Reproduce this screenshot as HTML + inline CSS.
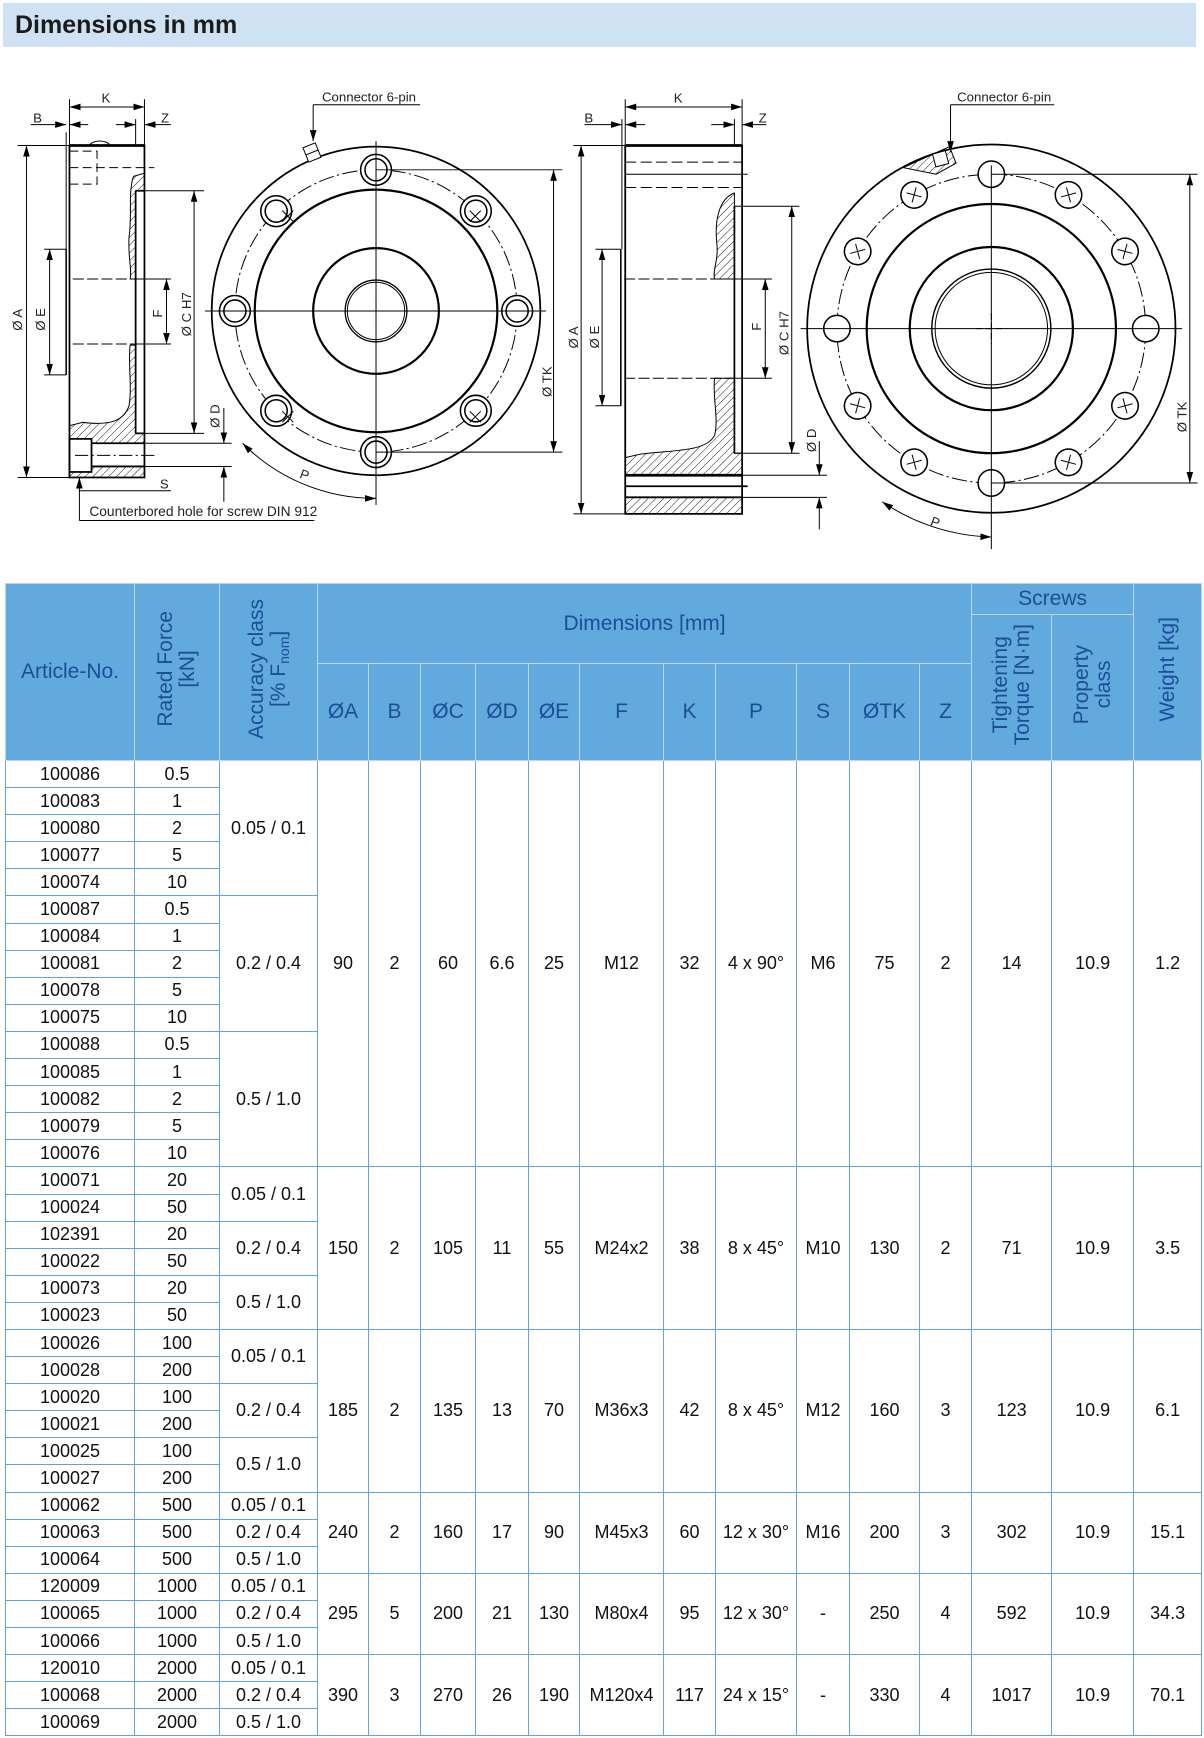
<!DOCTYPE html>
<html><head><meta charset="utf-8"><style>
body{margin:0;background:#fff;width:1204px;height:1738px;position:relative;overflow:hidden;font-family:"Liberation Sans",Arial,sans-serif}
.hdr{position:absolute;left:3px;top:3px;width:1193px;height:44px;background:#cfe2f3}
.hdr span{position:absolute;left:12px;top:8px;font-size:25px;font-weight:bold;color:#1b1b1b}
svg.dr{position:absolute;left:0;top:0}
table{position:absolute;left:5px;top:583px;border-collapse:collapse;table-layout:fixed;width:1196px}
td,th{padding:0;text-align:center;vertical-align:middle;overflow:hidden;white-space:nowrap}
th{background:#62a9dd;color:#1a4f96;font-weight:normal;font-size:21px;border:1px solid #b9d8ef}
td{border:1px solid #62a2d8;font-size:18px;color:#111;height:26.1px}
.v{display:inline-block;writing-mode:vertical-rl;transform:rotate(180deg);line-height:1.05;font-size:21px}
</style></head><body>
<div class="hdr"><span>Dimensions in mm</span></div>
<svg class="dr" width="1204" height="580" viewBox="0 0 1204 580">
<defs>
<pattern id="h" width="5" height="5" patternUnits="userSpaceOnUse" patternTransform="rotate(45)"><line x1="0" y1="0" x2="0" y2="5" stroke="#000" stroke-width="0.8"/></pattern>
<marker id="a" markerWidth="10" markerHeight="6" refX="10" refY="3" orient="auto-start-reverse" markerUnits="userSpaceOnUse"><path d="M0,0L10,3L0,6Z" fill="#000"/></marker>
<g id="h4"><circle cx="0" cy="-140" r="12" fill="#fff" stroke="#000" stroke-width="1.4"/></g>
<g id="x4"><circle cx="0" cy="-140" r="12" fill="#fff" stroke="#000" stroke-width="1.4"/><path d="M-5,-145 l10,10 m0,-10 l-10,10" stroke="#000" stroke-width="0.9"/></g>
<g id="hl"><circle cx="0" cy="-128" r="14" fill="#fff" stroke="#000" stroke-width="1.4"/><circle cx="0" cy="-128" r="10" fill="none" stroke="#000" stroke-width="1.4"/></g>
</defs>
<g transform="scale(1.1027)" fill="none" stroke="#000" stroke-width="0.9" font-family="'Liberation Sans Narrow','Liberation Sans',sans-serif" font-size="12">
<!-- VIEW 1 -->
<path d="M121,160 C116,175 120,195 117,215 C116,235 120,245 118,253 L123,253 L123,173 L131,173 L131,157 Z" fill="url(#h)"/>
<path d="M118,313 C116,330 120,350 117,368 C112,382 100,386 75,383 L63,386 L63,398 L83,398 L83,402 L131,402 L131,393 L123,393 L123,313 Z" fill="url(#h)"/>
<path d="M83,423 L131,423 L131,433 L63,433 L63,428 L83,428 Z" fill="url(#h)"/>
<rect x="63" y="132" width="68" height="301" stroke-width="1.6"/>
<line x1="63" y1="132" x2="131" y2="132" stroke-width="2.5"/>
<path d="M81,132 A10,6 0 0 1 100,132" />
<line x1="123" y1="173" x2="123" y2="393" stroke-width="1.6"/>
<line x1="123" y1="173" x2="131" y2="173" stroke-width="1.6"/>
<line x1="123" y1="393" x2="131" y2="393" stroke-width="1.6"/>
<rect x="63" y="398" width="20" height="30" stroke-width="1.6"/>
<line x1="83" y1="402" x2="131" y2="402" stroke-width="1.6"/><line x1="83" y1="423" x2="131" y2="423" stroke-width="1.6"/>
<line x1="68" y1="413" x2="142" y2="413" stroke-dasharray="12,3,2,3"/>
<path d="M63,137 H88 V152 M63,167 H88 V152 M63,152 H140" stroke-dasharray="8,4"/>
<path d="M66,253 H123 M66,312 H123" stroke-dasharray="10,3"/>
<line x1="60" y1="226" x2="60" y2="340" stroke-width="1.4"/>
<line x1="60" y1="120" x2="60" y2="226"/>
<line x1="131" y1="90" x2="131" y2="132"/><line x1="63" y1="90" x2="63" y2="132"/><line x1="123" y1="108" x2="123" y2="132"/>
<line x1="63" y1="97" x2="131" y2="97" marker-start="url(#a)" marker-end="url(#a)"/>
<line x1="28" y1="113" x2="60" y2="113" marker-end="url(#a)"/><line x1="63" y1="113" x2="80" y2="113" marker-start="url(#a)"/>
<line x1="105" y1="113" x2="123" y2="113" marker-end="url(#a)"/><line x1="131" y1="113" x2="155" y2="113" marker-start="url(#a)"/>
<line x1="16" y1="132" x2="63" y2="132"/><line x1="16" y1="433" x2="63" y2="433"/>
<line x1="24" y1="132" x2="24" y2="433" marker-start="url(#a)" marker-end="url(#a)"/>
<line x1="40" y1="226" x2="60" y2="226"/><line x1="40" y1="340" x2="60" y2="340"/>
<line x1="45" y1="226" x2="45" y2="340" marker-start="url(#a)" marker-end="url(#a)"/>
<line x1="123" y1="253" x2="155" y2="253"/><line x1="123" y1="312" x2="155" y2="312"/>
<line x1="151" y1="253" x2="151" y2="312" marker-start="url(#a)" marker-end="url(#a)"/>
<line x1="131" y1="173" x2="185" y2="173"/><line x1="131" y1="393" x2="185" y2="393"/>
<line x1="176" y1="173" x2="176" y2="393" marker-start="url(#a)" marker-end="url(#a)"/>
<line x1="131" y1="402" x2="210" y2="402"/><line x1="131" y1="423" x2="210" y2="423"/>
<line x1="203" y1="370" x2="203" y2="402" marker-end="url(#a)"/><line x1="203" y1="423" x2="203" y2="455" marker-start="url(#a)"/>
<line x1="72" y1="433" x2="72" y2="472" marker-start="url(#a)"/>
<line x1="72" y1="445" x2="155" y2="445"/>
<line x1="72" y1="472" x2="285" y2="472"/>
<g stroke="none" fill="#222">
<text x="92" y="93">K</text><text x="30" y="111">B</text><text x="146" y="111">Z</text>
<text x="145" y="443">S</text>
<text x="81" y="468" font-size="12.5">Counterbored hole for screw DIN 912</text>
<text transform="translate(20,300) rotate(-90)">Ø A</text>
<text transform="translate(41,300) rotate(-90)">Ø E</text>
<text transform="translate(147,288) rotate(-90)">F</text>
<text transform="translate(173,305) rotate(-90)">Ø C H7</text>
<text transform="translate(199,388) rotate(-90)">Ø D</text>
<text transform="translate(500,360) rotate(-90)">Ø TK</text>
<text x="292" y="92">Connector 6-pin</text>
<text transform="translate(271,433) rotate(20)">P</text>
</g>
<!-- VIEW 2 -->
<g transform="translate(341,282)">
<circle r="149" stroke-width="1.6"/><circle r="110" stroke-width="2"/>
<circle r="128" stroke-dasharray="14,3,2,3"/>
<circle r="57" stroke-width="2"/><circle r="28" stroke-width="1.2"/><circle r="26"/>
<use href="#hl"/><use href="#hl" transform="rotate(45)"/><use href="#hl" transform="rotate(90)"/><use href="#hl" transform="rotate(135)"/><use href="#hl" transform="rotate(180)"/><use href="#hl" transform="rotate(225)"/><use href="#hl" transform="rotate(270)"/><use href="#hl" transform="rotate(315)"/>
<path d="M-90,-96 l10,10 m0,-10 l-10,10 M90,-96 l-10,10 m0,-10 l10,10 M-90,86 l10,10 m0,-10 l-10,10 M80,86 l10,10 m0,-10 l-10,10" transform="translate(5,5)"/>
<g transform="rotate(-22)"><rect x="-6" y="-162" width="12" height="14" fill="#fff"/><line x1="-6" y1="-155" x2="6" y2="-155"/></g>
</g>
<line x1="186" y1="282" x2="495" y2="282"/><line x1="341" y1="128" x2="341" y2="458"/>
<path d="M327,282 h28 M341,268 v28" stroke-dasharray="6,3"/>
<path d="M284,95 V128" marker-end="url(#a)"/><line x1="284" y1="95" x2="381" y2="95"/>
<line x1="341" y1="154" x2="510" y2="154"/><line x1="341" y1="410" x2="510" y2="410"/>
<line x1="502" y1="154" x2="502" y2="410" marker-start="url(#a)" marker-end="url(#a)"/>
<path d="M220,402 A170,170 0 0 0 341,452" marker-start="url(#a)" marker-end="url(#a)"/>
<!-- VIEW 3 -->
<path d="M666,175 C652,180 648,200 650,220 C652,235 646,245 648,253 L666,253 Z" fill="url(#h)"/>
<path d="M666,343 L648,343 C646,360 652,380 648,395 C640,410 610,408 580,412 L567,415 L567,431 L673,431 L673,411 L666,411 Z" fill="url(#h)"/>
<rect x="567" y="451" width="106" height="15" fill="url(#h)"/>
<rect x="567" y="132" width="106" height="334" stroke-width="1.6"/>
<line x1="567" y1="132" x2="673" y2="132" stroke-width="2.5"/>
<line x1="666" y1="187" x2="666" y2="411" stroke-width="1.6"/><line x1="666" y1="187" x2="673" y2="187"/><line x1="666" y1="411" x2="673" y2="411"/>
<line x1="567" y1="431" x2="673" y2="431" stroke-width="2.5"/><line x1="567" y1="451" x2="673" y2="451" stroke-width="1.6"/>
<line x1="567" y1="441" x2="678" y2="441" stroke-width="1.6"/>
<path d="M567,147 H673 M567,170 H673" stroke-dasharray="10,4"/><line x1="567" y1="158" x2="678" y2="158"/>
<path d="M566,253 H666 M566,343 H666" stroke-dasharray="10,3"/>
<line x1="563" y1="226" x2="563" y2="368" stroke-width="1.4"/>
<line x1="567" y1="90" x2="567" y2="132"/><line x1="673" y1="90" x2="673" y2="132"/><line x1="564" y1="108" x2="564" y2="226"/><line x1="666" y1="108" x2="666" y2="132"/>
<line x1="567" y1="97" x2="673" y2="97" marker-start="url(#a)" marker-end="url(#a)"/>
<line x1="530" y1="113" x2="564" y2="113" marker-end="url(#a)"/><line x1="567" y1="113" x2="585" y2="113" marker-start="url(#a)"/>
<line x1="645" y1="113" x2="666" y2="113" marker-end="url(#a)"/><line x1="673" y1="113" x2="695" y2="113" marker-start="url(#a)"/>
<line x1="520" y1="132" x2="567" y2="132"/><line x1="520" y1="466" x2="567" y2="466"/>
<line x1="527" y1="132" x2="527" y2="466" marker-start="url(#a)" marker-end="url(#a)"/>
<line x1="540" y1="226" x2="563" y2="226"/><line x1="540" y1="368" x2="563" y2="368"/>
<line x1="546" y1="226" x2="546" y2="368" marker-start="url(#a)" marker-end="url(#a)"/>
<line x1="666" y1="253" x2="700" y2="253"/><line x1="666" y1="343" x2="700" y2="343"/>
<line x1="694" y1="253" x2="694" y2="343" marker-start="url(#a)" marker-end="url(#a)"/>
<line x1="673" y1="187" x2="725" y2="187"/><line x1="673" y1="411" x2="725" y2="411"/>
<line x1="718" y1="187" x2="718" y2="411" marker-start="url(#a)" marker-end="url(#a)"/>
<line x1="673" y1="431" x2="750" y2="431"/><line x1="673" y1="451" x2="750" y2="451"/>
<line x1="743" y1="400" x2="743" y2="431" marker-end="url(#a)"/><line x1="743" y1="451" x2="743" y2="480" marker-start="url(#a)"/>
<g stroke="none" fill="#222">
<text x="611" y="93">K</text><text x="530" y="111">B</text><text x="688" y="111">Z</text>
<text transform="translate(524,316) rotate(-90)">Ø A</text>
<text transform="translate(543,316) rotate(-90)">Ø E</text>
<text transform="translate(690,300) rotate(-90)">F</text>
<text transform="translate(715,322) rotate(-90)">Ø C H7</text>
<text transform="translate(740,410) rotate(-90)">Ø D</text>
<text transform="translate(1076,392) rotate(-90)">Ø TK</text>
<text x="868" y="92">Connector 6-pin</text>
<text transform="translate(843,476) rotate(20)">P</text>
</g>
<!-- VIEW 4 -->
<g transform="translate(899,298)">
<circle r="167" stroke-width="1.6"/><circle r="113" stroke-width="2"/>
<circle r="140" stroke-dasharray="14,3,2,3"/>
<circle r="74" stroke-width="2"/><circle r="54" stroke-width="1.3"/><circle r="51"/>
<use href="#h4"/><use href="#h4" transform="rotate(90)"/><use href="#h4" transform="rotate(180)"/><use href="#h4" transform="rotate(270)"/>
<use href="#x4" transform="rotate(30)"/><use href="#x4" transform="rotate(60)"/><use href="#x4" transform="rotate(120)"/><use href="#x4" transform="rotate(150)"/><use href="#x4" transform="rotate(210)"/><use href="#x4" transform="rotate(240)"/><use href="#x4" transform="rotate(300)"/><use href="#x4" transform="rotate(330)"/>
<path d="M-80,-146 L-38,-165 L-32,-150 L-50,-140 Z" fill="url(#h)"/>
<rect x="-52" y="-160" width="12" height="12" fill="#fff" transform="rotate(-15 -46 -154)"/>
</g>
<line x1="726" y1="298" x2="1072" y2="298"/><line x1="899" y1="150" x2="899" y2="498"/>
<path d="M885,298 h28 M899,284 v28" stroke-dasharray="6,3"/>
<path d="M862,95 V138" marker-end="url(#a)"/><line x1="862" y1="95" x2="956" y2="95"/>
<line x1="899" y1="158" x2="1086" y2="158"/><line x1="899" y1="438" x2="1086" y2="438"/>
<line x1="1079" y1="158" x2="1079" y2="438" marker-start="url(#a)" marker-end="url(#a)"/>
<path d="M800,455 A185,185 0 0 0 899,487" marker-start="url(#a)" marker-end="url(#a)"/>
</g>
</svg>
<table>
<colgroup><col style="width:129px"><col style="width:85px"><col style="width:98px"><col style="width:51px"><col style="width:52px"><col style="width:55px"><col style="width:53px"><col style="width:51px"><col style="width:84px"><col style="width:52px"><col style="width:81px"><col style="width:53px"><col style="width:70px"><col style="width:52px"><col style="width:80px"><col style="width:82px"><col style="width:68px"></colgroup>
<tr style="height:31px"><th rowspan="3">Article-No.</th><th rowspan="3"><span class="v">Rated Force<br>[kN]</span></th><th rowspan="3"><span class="v">Accuracy class<br>[% F<sub style="font-size:14px">nom</sub>]</span></th><th colspan="11" rowspan="2">Dimensions [mm]</th><th colspan="2">Screws</th><th rowspan="3"><span class="v">Weight [kg]</span></th></tr>
<tr style="height:49px"><th rowspan="2"><span class="v">Tightening<br>Torque [N·m]</span></th><th rowspan="2"><span class="v">Property<br>class</span></th></tr>
<tr style="height:97px"><th>ØA</th><th>B</th><th>ØC</th><th>ØD</th><th>ØE</th><th>F</th><th>K</th><th>P</th><th>S</th><th>ØTK</th><th>Z</th></tr>
<tr><td>100086</td><td>0.5</td><td rowspan="5">0.05 / 0.1</td><td rowspan="15">90</td><td rowspan="15">2</td><td rowspan="15">60</td><td rowspan="15">6.6</td><td rowspan="15">25</td><td rowspan="15">M12</td><td rowspan="15">32</td><td rowspan="15">4 x 90°</td><td rowspan="15">M6</td><td rowspan="15">75</td><td rowspan="15">2</td><td rowspan="15">14</td><td rowspan="15">10.9</td><td rowspan="15">1.2</td></tr>
<tr><td>100083</td><td>1</td></tr><tr><td>100080</td><td>2</td></tr><tr><td>100077</td><td>5</td></tr><tr><td>100074</td><td>10</td></tr>
<tr><td>100087</td><td>0.5</td><td rowspan="5">0.2 / 0.4</td></tr>
<tr><td>100084</td><td>1</td></tr><tr><td>100081</td><td>2</td></tr><tr><td>100078</td><td>5</td></tr><tr><td>100075</td><td>10</td></tr>
<tr><td>100088</td><td>0.5</td><td rowspan="5">0.5 / 1.0</td></tr>
<tr><td>100085</td><td>1</td></tr><tr><td>100082</td><td>2</td></tr><tr><td>100079</td><td>5</td></tr><tr><td>100076</td><td>10</td></tr>
<tr><td>100071</td><td>20</td><td rowspan="2">0.05 / 0.1</td><td rowspan="6">150</td><td rowspan="6">2</td><td rowspan="6">105</td><td rowspan="6">11</td><td rowspan="6">55</td><td rowspan="6">M24x2</td><td rowspan="6">38</td><td rowspan="6">8 x 45°</td><td rowspan="6">M10</td><td rowspan="6">130</td><td rowspan="6">2</td><td rowspan="6">71</td><td rowspan="6">10.9</td><td rowspan="6">3.5</td></tr>
<tr><td>100024</td><td>50</td></tr>
<tr><td>102391</td><td>20</td><td rowspan="2">0.2 / 0.4</td></tr><tr><td>100022</td><td>50</td></tr>
<tr><td>100073</td><td>20</td><td rowspan="2">0.5 / 1.0</td></tr><tr><td>100023</td><td>50</td></tr>
<tr><td>100026</td><td>100</td><td rowspan="2">0.05 / 0.1</td><td rowspan="6">185</td><td rowspan="6">2</td><td rowspan="6">135</td><td rowspan="6">13</td><td rowspan="6">70</td><td rowspan="6">M36x3</td><td rowspan="6">42</td><td rowspan="6">8 x 45°</td><td rowspan="6">M12</td><td rowspan="6">160</td><td rowspan="6">3</td><td rowspan="6">123</td><td rowspan="6">10.9</td><td rowspan="6">6.1</td></tr>
<tr><td>100028</td><td>200</td></tr>
<tr><td>100020</td><td>100</td><td rowspan="2">0.2 / 0.4</td></tr><tr><td>100021</td><td>200</td></tr>
<tr><td>100025</td><td>100</td><td rowspan="2">0.5 / 1.0</td></tr><tr><td>100027</td><td>200</td></tr>
<tr><td>100062</td><td>500</td><td>0.05 / 0.1</td><td rowspan="3">240</td><td rowspan="3">2</td><td rowspan="3">160</td><td rowspan="3">17</td><td rowspan="3">90</td><td rowspan="3">M45x3</td><td rowspan="3">60</td><td rowspan="3">12 x 30°</td><td rowspan="3">M16</td><td rowspan="3">200</td><td rowspan="3">3</td><td rowspan="3">302</td><td rowspan="3">10.9</td><td rowspan="3">15.1</td></tr>
<tr><td>100063</td><td>500</td><td>0.2 / 0.4</td></tr><tr><td>100064</td><td>500</td><td>0.5 / 1.0</td></tr>
<tr><td>120009</td><td>1000</td><td>0.05 / 0.1</td><td rowspan="3">295</td><td rowspan="3">5</td><td rowspan="3">200</td><td rowspan="3">21</td><td rowspan="3">130</td><td rowspan="3">M80x4</td><td rowspan="3">95</td><td rowspan="3">12 x 30°</td><td rowspan="3">-</td><td rowspan="3">250</td><td rowspan="3">4</td><td rowspan="3">592</td><td rowspan="3">10.9</td><td rowspan="3">34.3</td></tr>
<tr><td>100065</td><td>1000</td><td>0.2 / 0.4</td></tr><tr><td>100066</td><td>1000</td><td>0.5 / 1.0</td></tr>
<tr><td>120010</td><td>2000</td><td>0.05 / 0.1</td><td rowspan="3">390</td><td rowspan="3">3</td><td rowspan="3">270</td><td rowspan="3">26</td><td rowspan="3">190</td><td rowspan="3">M120x4</td><td rowspan="3">117</td><td rowspan="3">24 x 15°</td><td rowspan="3">-</td><td rowspan="3">330</td><td rowspan="3">4</td><td rowspan="3">1017</td><td rowspan="3">10.9</td><td rowspan="3">70.1</td></tr>
<tr><td>100068</td><td>2000</td><td>0.2 / 0.4</td></tr><tr><td>100069</td><td>2000</td><td>0.5 / 1.0</td></tr>
</table>
</body></html>
